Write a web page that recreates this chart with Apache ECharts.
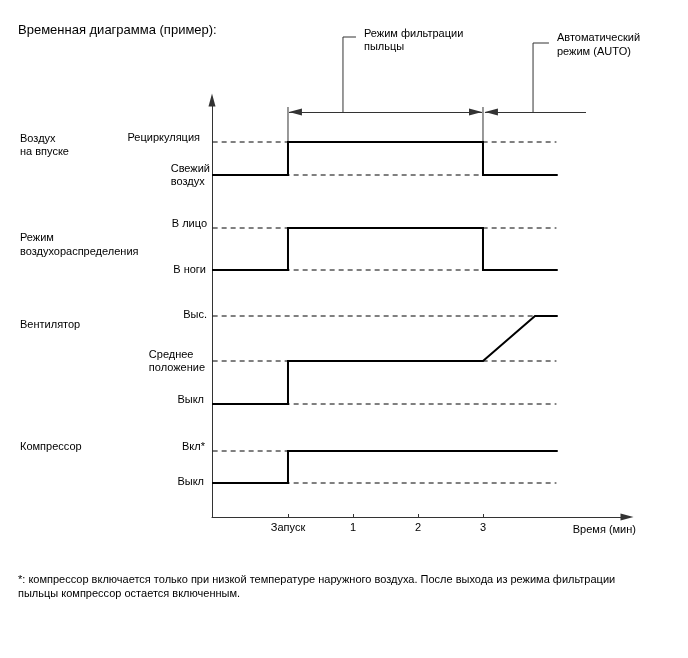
<!DOCTYPE html>
<html><head><meta charset="utf-8">
<script src="https://cdn.jsdelivr.net/npm/echarts@6/dist/echarts.min.js"></script>
<style>html,body{margin:0;padding:0;background:#fff}#c{width:688px;height:658px}</style>
</head><body><div id="c"></div>
<script>
// ---- data ----
const timeTickValues = [0, 1, 2, 3];
const timeTickLabels = ['Запуск', '1', '2', '3'];
const levelValues = [37.5, 34.2, 28.9, 24.7, 20.1, 15.6, 11.3, 6.6, 3.4];
const levelLabels = ['Рециркуляция', 'Свежий\nвоздух', 'В лицо', 'В ноги', 'Выс.', 'Среднее\nположение', 'Выкл', 'Вкл*', 'Выкл'];
const groupLabels = ['Воздух\nна впуске', 'Режим\nвоздухораспределения', 'Вентилятор', 'Компрессор'];
const tStart = -1.169, tEnd = 4.15;
const intakeSignal = [[tStart, 34.2], [0, 34.2], [0, 37.5], [3, 37.5], [3, 34.2], [tEnd, 34.2]];
const distributionSignal = [[tStart, 24.7], [0, 24.7], [0, 28.9], [3, 28.9], [3, 24.7], [tEnd, 24.7]];
const fanSignal = [[tStart, 11.3], [0, 11.3], [0, 15.6], [3, 15.6], [3.8, 20.1], [tEnd, 20.1]];
const compressorSignal = [[tStart, 3.4], [0, 3.4], [0, 6.6], [tEnd, 6.6]];
const pollenSpan = [0.015, 2.985];  // minutes
const autoSpan = [3.03, 4.585];     // minutes
const spanLevel = 40.5;
const markerTop = 41.0;
const pollenLeader = [[0.846, 40.5], [0.846, 48.0], [1.046, 48.0]];
const autoLeader = [[3.77, 40.5], [3.77, 47.4], [4.015, 47.4]];
const boundaryLines = [[[0, markerTop], [0, 37.5]], [[3, markerTop], [3, 37.5]]];

// ---- chart ----
const FONT = '"Liberation Sans", Arial, sans-serif';
const chart = echarts.init(document.getElementById('c'), null, {renderer: 'canvas'});

const labelStyle = [
  {pad: [0, 10, 8, 0]},
  {pad: [0, 0, 0, 0], left: true},
  {pad: [0, 3, 9, 0]},
  {pad: [0, 4, 0, 0]},
  {pad: [0, 3, 2, 0]},
  {pad: [0, 5, 0, 0], left: true},
  {pad: [0, 6, 8, 0]},
  {pad: [0, 5, 9, 0]},
  {pad: [0, 6, 2, 0]}
];
const rich = {};
labelStyle.forEach((s, i) => {
  rich['l' + i] = {padding: s.pad, align: s.left ? 'left' : 'right', fontSize: 11, fontFamily: FONT, color: '#000', lineHeight: 13};
});

const dashedSeries = levelValues.map(v => ({
  type: 'line', silent: true, symbol: 'none', z: 2,
  data: [[tStart + 0.01, v], [tEnd - 0.02, v]],
  lineStyle: {color: '#000', width: 1, type: [5, 4]}
}));
const solid = d => ({
  type: 'line', silent: true, symbol: 'none', z: 4, data: d,
  lineStyle: {color: '#000', width: 2, cap: 'butt', join: 'miter'}
});
const thin = d => ({
  type: 'line', silent: true, symbol: 'none', z: 3, clip: false, data: d,
  lineStyle: {color: '#333', width: 1}
});

chart.setOption({
  animation: false,
  backgroundColor: '#fff',
  textStyle: {fontFamily: FONT},
  grid: {left: 212, right: 61, top: 100, bottom: 141, containLabel: false},
  xAxis: {
    type: 'value', min: tStart, max: tStart + 415 / 65,
    splitLine: {show: false},
    axisLine: {show: true, onZero: false, lineStyle: {color: '#333', width: 1}, symbol: ['none', 'triangle'], symbolSize: [7, 13]},
    axisTick: {show: true, inside: true, length: 3, customValues: timeTickValues, lineStyle: {color: '#333'}},
    axisLabel: {
      show: true, customValues: timeTickValues, margin: 5, fontSize: 11, color: '#000', fontFamily: FONT,
      formatter: v => timeTickLabels[timeTickValues.indexOf(v)]
    },
    name: 'Время (мин)', nameLocation: 'end', nameGap: 9,
    nameTextStyle: {align: 'right', verticalAlign: 'top', padding: [7, 0, 0, 0], fontSize: 11, color: '#000', fontFamily: FONT}
  },
  yAxis: {
    type: 'value', min: 0, max: 41.7,
    splitLine: {show: false},
    axisLine: {show: true, onZero: false, lineStyle: {color: '#333', width: 1}, symbol: ['none', 'triangle'], symbolSize: [7, 13]},
    axisTick: {show: false},
    axisLabel: {
      show: true, customValues: levelValues, margin: 2, rich: rich,
      formatter: v => {
        const i = levelValues.indexOf(v);
        return levelLabels[i].split('\n').map(t => '{l' + i + '|' + t + '}').join('\n');
      }
    }
  },
  graphic: [
    {type: 'text', x: 18, y: 30, style: {text: 'Временная диаграмма (пример):', font: '13px ' + FONT, fill: '#000', verticalAlign: 'middle'}},
    {type: 'text', x: 364, y: 40.5, style: {text: 'Режим фильтрации\nпыльцы', font: '11px ' + FONT, fill: '#000', lineHeight: 13, verticalAlign: 'middle'}},
    {type: 'text', x: 557, y: 44.5, style: {text: 'Автоматический\nрежим (AUTO)', font: '11px ' + FONT, fill: '#000', lineHeight: 14, verticalAlign: 'middle'}},
    {type: 'text', x: 20, y: 145.5, style: {text: groupLabels[0], font: '11px ' + FONT, fill: '#000', lineHeight: 13, verticalAlign: 'middle'}},
    {type: 'text', x: 20, y: 245, style: {text: groupLabels[1], font: '11px ' + FONT, fill: '#000', lineHeight: 14, verticalAlign: 'middle'}},
    {type: 'text', x: 20, y: 325, style: {text: groupLabels[2], font: '11px ' + FONT, fill: '#000', verticalAlign: 'middle'}},
    {type: 'text', x: 20, y: 447, style: {text: groupLabels[3], font: '11px ' + FONT, fill: '#000', verticalAlign: 'middle'}},
    {type: 'text', x: 18, y: 587, style: {text: '*: компрессор включается только при низкой температуре наружного воздуха. После выхода из режима фильтрации\nпыльцы компрессор остается включенным.', font: '11px ' + FONT, fill: '#000', lineHeight: 14, verticalAlign: 'middle'}}
  ],
  series: [
    ...dashedSeries,
    solid(intakeSignal),
    solid(distributionSignal),
    solid(fanSignal),
    solid(compressorSignal),
    ...boundaryLines.map(thin),
    thin(pollenLeader),
    thin(autoLeader),
    {
      type: 'line', silent: true, symbol: 'none', data: [], z: 3,
      markLine: {
        silent: true, animation: false,
        symbol: ['triangle', 'triangle'], symbolSize: [7, 13], symbolOffset: [[0, 6.5], [0, 6.5]],
        lineStyle: {color: '#333', width: 1, type: 'solid'},
        label: {show: false},
        data: [
          [{coord: [pollenSpan[0], spanLevel]}, {coord: [pollenSpan[1], spanLevel]}],
          [{coord: [autoSpan[0], spanLevel]}, {coord: [autoSpan[1], spanLevel], symbol: 'none'}]
        ]
      }
    }
  ]
});
</script></body></html>
